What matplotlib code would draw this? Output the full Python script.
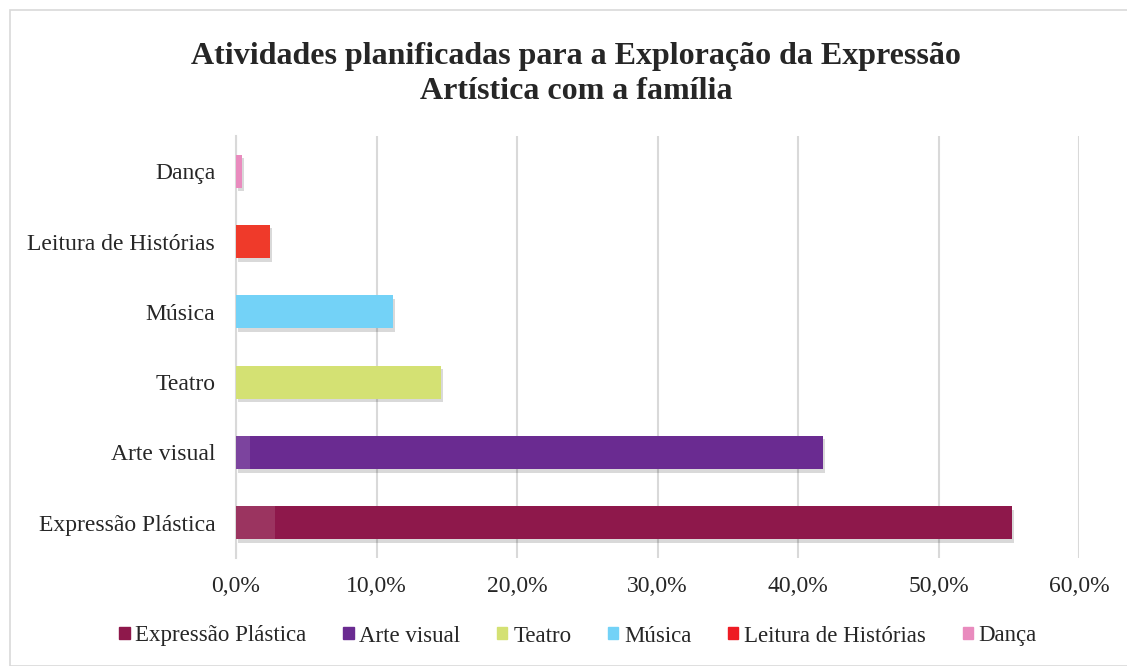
import matplotlib.pyplot as plt
import matplotlib.patheffects as pe
from matplotlib.patches import Rectangle
from matplotlib.ticker import FuncFormatter

# data (percent)
categories = ['Expressão Plástica', 'Arte visual', 'Teatro', 'Música',
              'Leitura de Histórias', 'Dança']
values = [55.2, 41.8, 14.6, 11.2, 2.4, 0.4]
# lighter segment visible at the start of some bars
overlap = [2.8, 1.0, 0, 0, 0, 0]
colors = ['#8E184B', '#6A2B91', '#D4E173', '#73D2F7', '#EF3A2A', '#E98BBE']
legend_colors = ['#8E184B', '#6A2B91', '#D4E173', '#73D2F7', '#EE1C24', '#E98BBE']
title = 'Atividades planificadas para a Exploração da Expressão\nArtística com a família'

plt.rcParams['font.family'] = ['Liberation Serif', 'DejaVu Serif']

fig = plt.figure(figsize=(11.27, 6.66), dpi=100)
fig.patches.append(Rectangle((10 / 1127, 0), 1.2, 656 / 666, transform=fig.transFigure,
                             fill=False, edgecolor='#D9D9D9', linewidth=1.2))
ax = fig.add_axes([236 / 1127, 1 - 558 / 666, (1079 - 236) / 1127, 422 / 666])

ypos = list(range(len(categories)))
shadow = [pe.SimplePatchShadow(offset=(1.5, -2.5), shadow_rgbFace='#000000', alpha=0.15), pe.Normal()]
bars = ax.barh(ypos, values, height=0.47, color=colors, zorder=3)
for b in bars:
    b.set_path_effects(shadow)
ax.barh(ypos, overlap, height=0.47, color='white', alpha=0.12, zorder=4)

ax.set_xlim(0, 60)
ax.set_ylim(-0.5, len(categories) - 0.5)
ax.set_xticks([0, 10, 20, 30, 40, 50, 60])
ax.xaxis.set_major_formatter(FuncFormatter(lambda v, p: f'{v:.1f}%'.replace('.', ',')))
ax.set_yticks(ypos)
ax.set_yticklabels(categories)
ax.tick_params(axis='both', length=0, labelsize=17, colors='#262626')
ax.tick_params(axis='y', pad=15)
ax.tick_params(axis='x', pad=13)
ax.grid(axis='x', color='#D9D9D9', linewidth=1.5, zorder=0)
for s in ['top', 'right', 'bottom']:
    ax.spines[s].set_visible(False)
ax.spines['left'].set_color('#D9D9D9')
ax.spines['left'].set_linewidth(1.5)

fig.text(0.511, 1 - 74 / 666, title, ha='center', va='center', fontsize=23,
         fontweight='bold', color='#262626', linespacing=1.3)

handles = [Rectangle((0, 0), 1, 1, color=c) for c in legend_colors]
fig.legend(handles, categories, loc='center', bbox_to_anchor=(0.513, 1 - 636 / 666),
           ncol=6, frameon=False, fontsize=16.5, handlelength=0.45, handleheight=0.45,
           handletextpad=0.25, columnspacing=1.6, labelcolor='#262626')

fig.savefig('out.png', dpi=100)
